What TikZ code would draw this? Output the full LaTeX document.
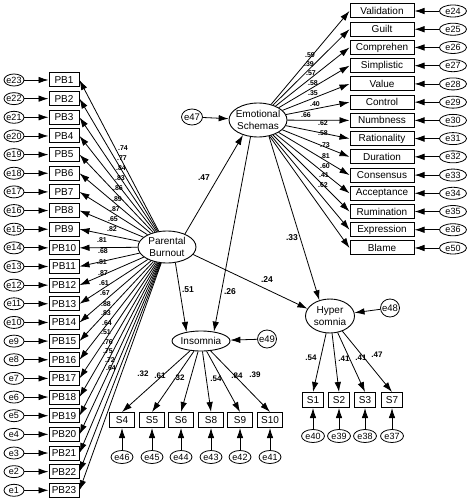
\documentclass[tikz,border=0pt]{standalone}
\usepackage{fontspec}
\setmainfont{Liberation Sans}
\usetikzlibrary{arrows.meta,shapes.geometric}
\begin{document}
\begin{tikzpicture}[x=1pt,y=-1pt,
 every node/.style={font=\fontsize{10}{12}\selectfont, inner sep=0pt},
 obs/.style={draw, rectangle, line width=1pt, minimum height=14pt},
 err/.style={draw, ellipse, line width=0.8pt, minimum width=20pt, minimum height=12pt, inner xsep=-3pt, font=\fontsize{9}{10}\selectfont},
 errc/.style={draw, ellipse, line width=0.8pt, minimum width=21pt, minimum height=16pt, inner xsep=-3pt, font=\fontsize{9.5}{10}\selectfont},
 lat/.style={draw, ellipse, line width=0.9pt, align=center},
 arr/.style={draw, line width=0.8pt, -{Latex[length=10pt,width=6.5pt]}},
 coef/.style={font=\fontsize{7}{8}\bfseries\selectfont},
 coefb/.style={font=\fontsize{8.5}{10}\bfseries\selectfont}]
\useasboundingbox (0,0) rectangle (473,500);

% latent variables
\node[lat, minimum width=58pt, minimum height=32pt] (burn) at (167,247) {Parental\\Burnout};
\node[lat, minimum width=58pt, minimum height=34pt, inner xsep=-2pt] (emo) at (258,120) {Emotional\\Schemas};
\node[lat, minimum width=58pt, minimum height=20pt] (ins) at (201,341) {Insomnia};
\node[lat, minimum width=49pt, minimum height=34pt] (hyp) at (330,316) {Hyper\\somnia};

% disturbances
\node[errc] (e47) at (192,117) {e47};
\node[errc, minimum width=19pt, minimum height=18pt] (e49) at (267,339) {e49};
\node[errc, minimum width=19pt, minimum height=18pt] (e48) at (390,308) {e48};
\draw[arr] (e47) -- (emo);
\draw[arr] (e49) -- (ins);
\draw[arr] (e48) -- (hyp);

% Parental burnout items
\foreach \i in {1,...,23} {
  \pgfmathsetmacro\yy{80+(\i-1)*18.65}
  \pgfmathtruncatemacro\ee{24-\i}
  \node[obs, minimum width=30pt] (pb\i) at (64,\yy) {PB\i};
  \node[err] (epb\i) at (14,\yy) {e\ee};
  \draw[arr] (epb\i) -- (pb\i);
}
\foreach \i/\v/\lx/\ly in {1/.74/123/148, 2/.77/122/158, 3/.84/121/168, 4/.83/120/178,
  5/.86/118/188, 6/.89/117/199, 7/.87/115/209, 8/.65/113/219, 9/.82/112/229,
  10/.81/102/240, 11/.68/103/251, 12/.81/102/262, 13/.87/103/273, 14/.61/104/283,
  15/.67/105/293, 16/.88/106/304, 17/.83/106/313, 18/.64/107/323, 19/.51/106/332,
  20/.76/108/342, 21/.75/108/351, 22/.72/110/360, 23/.64/111/368} {
  \draw[arr] (burn) -- (pb\i.east);
  \node[coef] (lpb\i) at (\lx,\ly) {\v};
}

% Emotional schema items
\foreach \j/\lab/\e/\v/\lx/\ly in {1/Validation/24/.59/310/55, 2/Guilt/25/.39/309/64,
  3/Comprehen/26/.57/311/73, 4/Simplistic/27/.58/313/83, 5/Value/28/.35/313/93,
  6/Control/29/.40/315/104, 7/Numbness/30/.66/306/115, 8/Rationality/31/.62/323/123,
  9/Duration/32/.58/323/133, 10/Consensus/33/.73/325/145, 11/Acceptance/34/.81/325/156,
  12/Rumination/35/.60/325/166, 13/Expression/36/.41/324/175, 14/Blame/50/.62/323/185} {
  \pgfmathsetmacro\yy{11+(\j-1)*18.23}
  \node[obs, minimum width=64pt] (es\j) at (382,\yy) {\lab};
  \node[err, minimum width=27pt] (ees\j) at (453,\yy) {e\e};
  \draw[arr] (ees\j) -- (es\j);
  \draw[arr] (emo) -- (es\j.west);
  \node[coef] (les\j) at (\lx,\ly) {\v};
}

% Insomnia items
\foreach \k/\lab/\e/\x/\v/\lx/\ly in {1/S4/46/122/.32/143/374, 2/S5/45/152/.61/160/376,
  3/S6/44/181/.32/179/378, 4/S8/43/211/.54/216/379, 5/S9/42/240/.84/237/376,
  6/S10/41/270/.39/255/375} {
  \node[obs, minimum width=25pt, minimum height=15pt] (si\k) at (\x,420) {\lab};
  \node[err, minimum width=22pt, minimum height=13pt] (esi\k) at (\x,457) {e\e};
  \draw[arr] (esi\k) -- (si\k);
  \draw[arr] (ins) -- (si\k.north);
  \node[coefb, font=\fontsize{8}{9}\bfseries\selectfont] (lsi\k) at (\lx,\ly) {\v};
}

% Hypersomnia items
\foreach \k/\lab/\e/\x/\v/\lx/\ly in {1/S1/40/313/.54/311/358, 2/S2/39/339/.41/344/359,
  3/S3/38/365/.41/361/358, 4/S7/37/392/.47/377/355} {
  \node[obs, minimum width=21pt, minimum height=15pt] (sh\k) at (\x,400) {\lab};
  \node[err, minimum width=23pt, minimum height=13pt] (esh\k) at (\x,436) {e\e};
  \draw[arr] (esh\k) -- (sh\k);
  \draw[arr] (hyp) -- (sh\k.north);
  \node[coefb, font=\fontsize{8}{9}\bfseries\selectfont] (lsh\k) at (\lx,\ly) {\v};
}

% structural paths
\draw[arr] (burn.36) -- (emo.225);
\draw[arr] (burn.298) -- (ins.148);
\draw[arr] (emo.246) -- (ins.36);
\draw[arr] (emo.304) -- (hyp.124);
\draw[arr] (burn.344) -- (hyp.162);
\node[coefb] (l47) at (204,178) {.47};
\node[coefb] (l51) at (188,290) {.51};
\node[coefb] (l26) at (230,292) {.26};
\node[coefb] (l33) at (292,238) {.33};
\node[coefb] (l24) at (267,280) {.24};
\end{tikzpicture}
\end{document}
